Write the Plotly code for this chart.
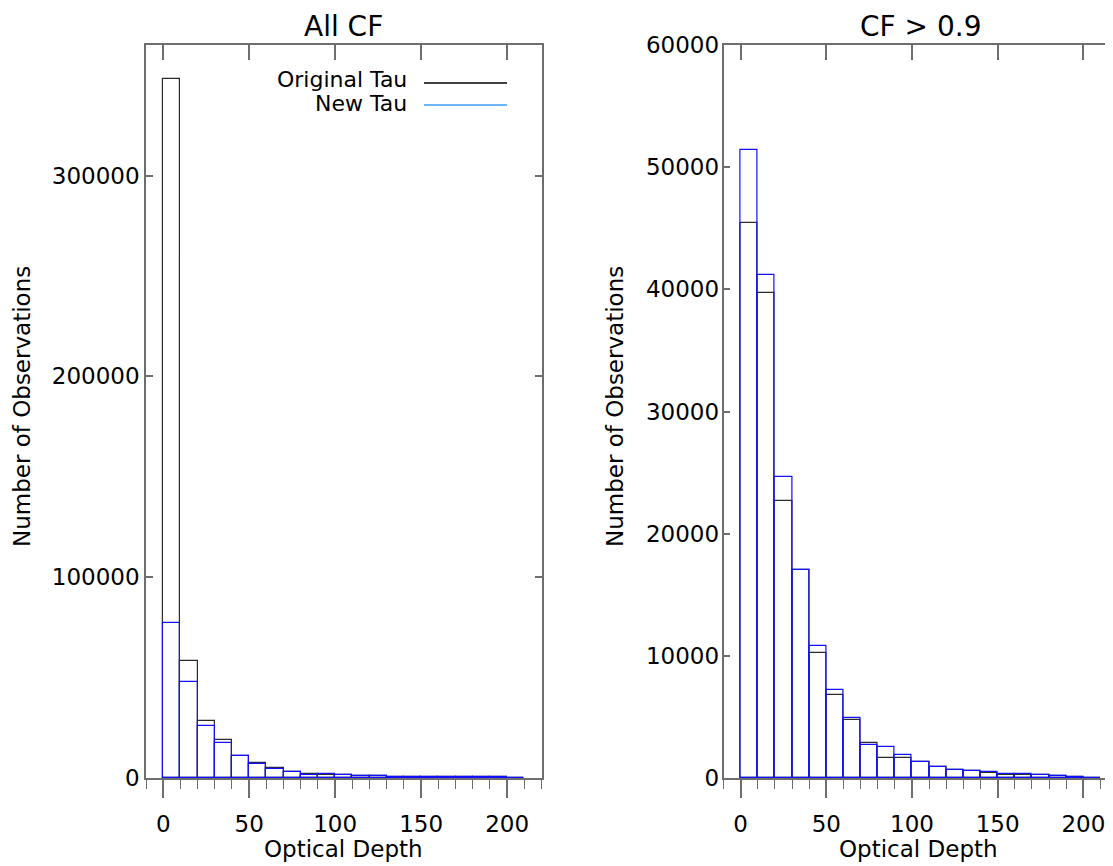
import plotly.graph_objects as go

# Histogram bins (left edges, width 10)
bin_start = [0, 10, 20, 30, 40, 50, 60, 70, 80, 90, 100,
             110, 120, 130, 140, 150, 160, 170, 180, 190, 200]

# All CF
orig_all = [348000, 58400, 28400, 18800, 11100, 7500, 5000, 3000, 2200, 1700, 1500,
            1200, 900, 700, 600, 500, 450, 400, 350, 300, 60]
new_all = [77100, 47800, 26100, 17600, 10800, 7200, 4700, 2900, 1700, 1850, 1500,
           1200, 900, 700, 600, 500, 450, 400, 350, 300, 60]

# CF > 0.9
orig_cf9 = [45400, 39700, 22700, 17000, 10250, 6760, 4760, 2830, 1620, 1650, 1350,
            890, 620, 560, 420, 280, 280, 220, 160, 100, 20]
new_cf9 = [51400, 41150, 24650, 17000, 10770, 7170, 4950, 2700, 2500, 1900, 1350,
           890, 670, 610, 480, 340, 300, 240, 160, 100, 20]

titles = ["All CF", "CF > 0.9"]
legend_labels = ["Original Tau", "New Tau"]
x_tickvals = [0, 50, 100, 150, 200]
y_tickvals_all = [0, 100000, 200000, 300000]
y_tickvals_cf9 = [0, 10000, 20000, 30000, 40000, 50000, 60000]

W, H = 1113, 866
OFF = 8  # page body margin offset
FONT = "DejaVu Sans"
BLACK = "#2a2a2a"
BLUE = "#1010ff"
AXC = "#6e6e6e"

def px(x):
    return (x - OFF) / W

def py(y):
    return 1 - (y - OFF) / H

fig = go.Figure()

def add_hist(xa, ya, orig, new):
    fig.add_trace(go.Bar(x=bin_start, y=orig, width=10, offset=0,
                         marker=dict(color="rgba(0,0,0,0)", line=dict(color=BLACK, width=1.2)),
                         xaxis=xa, yaxis=ya, showlegend=False, hoverinfo="x+y"))
    fig.add_trace(go.Bar(x=bin_start, y=new, width=10, offset=0,
                         marker=dict(color="rgba(0,0,0,0)", line=dict(color=BLUE, width=1.2)),
                         xaxis=xa, yaxis=ya, showlegend=False, hoverinfo="x+y"))

add_hist("x", "y", orig_all, new_all)
add_hist("x2", "y2", orig_cf9, new_cf9)

tickfont = dict(family=FONT, size=23, color="black")
ydom = [py(778), py(45)]

common_x = dict(tickvals=x_tickvals, ticks="outside", ticklen=18, tickwidth=1.5,
                tickcolor=AXC, showline=True, linecolor=AXC, linewidth=1.5, mirror=True,
                showgrid=False, zeroline=False, tickfont=tickfont, ticklabelstandoff=7,
                automargin=False,
                minor=dict(dtick=10, tick0=0, ticks="outside", ticklen=9, tickwidth=1.2,
                           tickcolor=AXC, showgrid=False))
top_x = dict(tickvals=x_tickvals, ticks="inside", ticklen=15, tickwidth=1.5, tickcolor=AXC,
             showticklabels=False, showline=False, showgrid=False, zeroline=False, side="top",
             automargin=False)

fig.update_layout(
    template="none",
    width=W, height=H, autosize=False,
    margin=dict(l=0, r=0, t=0, b=0, pad=0, autoexpand=False),
    paper_bgcolor="white", plot_bgcolor="white",
    font=dict(family=FONT, size=23, color="black"),
    barmode="overlay", bargap=0,
    showlegend=False,
    xaxis=dict(domain=[px(146), px(541.5)], range=[-10, 220], anchor="y", **common_x),
    xaxis3=dict(overlaying="x", anchor="y", range=[-10, 220], **top_x),
    yaxis=dict(domain=ydom, range=[0, 365000], anchor="x", tickvals=y_tickvals_all,
               tickformat="d", ticks="inside", ticklen=7, tickwidth=1.5, tickcolor=AXC,
               showline=True, linecolor=AXC, linewidth=1.5, mirror="ticks", automargin=False,
               showgrid=False, zeroline=False, tickfont=tickfont, ticklabelstandoff=0),
    xaxis2=dict(domain=[px(723.5), 1.0], range=[-10, 217.3 + OFF / 1.712], anchor="y2", **common_x),
    xaxis4=dict(overlaying="x2", anchor="y2", range=[-10, 217.3 + OFF / 1.712], **top_x),
    yaxis2=dict(domain=ydom, range=[0, 60000], anchor="x2", tickvals=y_tickvals_cf9,
                tickformat="d", ticks="inside", ticklen=7, tickwidth=1.5, tickcolor=AXC,
                showline=True, linecolor=AXC, linewidth=1.5, mirror=False, automargin=False,
                showgrid=False, zeroline=False, tickfont=tickfont, ticklabelstandoff=-2),
)

# Invisible traces so the overlay (top tick) axes render
for xa, ya in (("x3", "y"), ("x4", "y2")):
    fig.add_trace(go.Scatter(x=[None], y=[None], xaxis=xa, yaxis=ya, showlegend=False,
                             hoverinfo="skip"))

ann = []
# Panel titles
for t, cx in zip(titles, [343.5, 920]):
    ann.append(dict(text=t, x=px(cx), y=1.0, xref="paper", yref="paper",
                    xanchor="center", yanchor="top", showarrow=False,
                    font=dict(family=FONT, size=28, color="black")))
# Axis titles
for cx in [343.5, 918]:
    ann.append(dict(text="Optical Depth", x=px(cx), y=py(849), xref="paper", yref="paper",
                    xanchor="center", yanchor="middle", showarrow=False,
                    font=dict(family=FONT, size=23, color="black")))
for cx in [22, 615]:
    ann.append(dict(text="Number of Observations", x=px(cx), y=py(407), xref="paper",
                    yref="paper", xanchor="center", yanchor="middle", textangle=-90,
                    showarrow=False, font=dict(family=FONT, size=23, color="black")))
# Legend
for lab, ly in zip(legend_labels, [80, 104]):
    ann.append(dict(text=lab, x=px(409), y=py(ly), xref="paper", yref="paper",
                    xanchor="right", yanchor="middle", showarrow=False,
                    font=dict(family=FONT, size=22, color="black")))
fig.update_layout(annotations=ann)

shapes = [
    dict(type="line", xref="paper", yref="paper", x0=px(424), x1=px(507), y0=py(83), y1=py(83),
         line=dict(color="black", width=1.5)),
    dict(type="line", xref="paper", yref="paper", x0=px(424), x1=px(507), y0=py(105), y1=py(105),
         line=dict(color="#3d9dff", width=1.5)),
]
fig.update_layout(shapes=shapes)

fig.write_html("out.html")
